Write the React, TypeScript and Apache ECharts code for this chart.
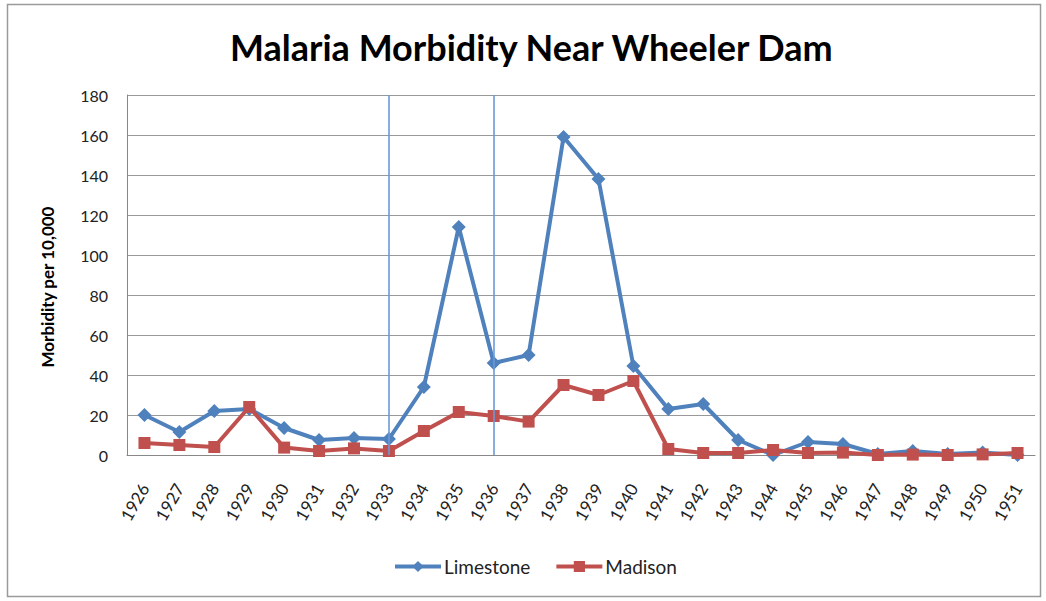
import React, { useEffect, useRef } from "react";
import * as echarts from "echarts";

const years = ["1926","1927","1928","1929","1930","1931","1932","1933","1934","1935","1936","1937","1938","1939","1940","1941","1942","1943","1944","1945","1946","1947","1948","1949","1950","1951"];
const limestone = [20, 11.5, 22, 23, 13.5, 7.5, 8.5, 8, 34, 114, 46, 50, 159, 138, 44.5, 23, 25.5, 7.5, 0, 6.5, 5.5, 0.5, 2, 0.5, 1.3, 0];
const madison = [6, 5, 4, 24, 3.7, 2, 3.3, 2, 12, 21.5, 19.5, 16.7, 35, 30, 37, 3, 1, 1, 2.5, 1, 1.2, 0, 0.2, 0, 0.3, 1];
const markYears = ["1933", "1936"];
const yTicks = { min: 0, max: 180, interval: 20 };

export default function App() {
  const ref = useRef<HTMLDivElement>(null);
  useEffect(() => {
    document.body.style.margin = "0";
    const chart = echarts.init(ref.current!, null, { renderer: "svg" });
    const font = "Lato, 'Open Sans', sans-serif";
    const blue = "#4F81BD";
    const red = "#C0504D";
    chart.setOption({
      animation: false,
      backgroundColor: "#fff",
      title: {
        text: "Malaria Morbidity Near Wheeler Dam",
        left: 225,
        top: 24,
        textStyle: { fontFamily: font, fontWeight: "bold", fontSize: 36, color: "#000" },
      },
      graphic: [
        {
          type: "rect",
          shape: { x: 7.5, y: 4.5, width: 1033, height: 592 },
          style: { fill: "none", stroke: "#9a9a9a", lineWidth: 1.5 },
          silent: true,
        },
        {
          type: "text",
          x: 47,
          y: 287,
          rotation: Math.PI / 2,
          style: {
            text: "Morbidity per 10,000",
            fontFamily: font,
            fontWeight: "bold",
            fontSize: 17,
            fill: "#000",
            align: "center",
            verticalAlign: "middle",
          },
          silent: true,
        },
      ],
      legend: {
        bottom: 20,
        left: 388,
        itemWidth: 46,
        itemHeight: 14,
        itemGap: 24,
        lineStyle: { width: 4 },
        textStyle: { fontFamily: font, fontSize: 19, color: "#222", padding: [0, 0, 0, -2] },
        data: ["Limestone", "Madison"],
      },
      grid: { left: 127, right: 11, top: 95, bottom: 146 },
      xAxis: {
        type: "category",
        data: years,
        boundaryGap: true,
        axisLine: { lineStyle: { color: "#888", width: 1 } },
        axisTick: { show: false },
        axisLabel: {
          rotate: 60,
          interval: 0,
          margin: 30,
          fontFamily: font,
          fontSize: 17,
          color: "#222",
        },
      },
      yAxis: {
        type: "value",
        min: yTicks.min,
        max: yTicks.max,
        interval: yTicks.interval,
        axisLine: { show: true, lineStyle: { color: "#888", width: 1 } },
        axisTick: { show: false },
        splitLine: { lineStyle: { color: "#999", width: 1 } },
        axisLabel: { margin: 19, fontFamily: font, fontSize: 16, color: "#222" },
      },
      series: [
        {
          name: "Limestone",
          type: "line",
          data: limestone,
          color: blue,
          lineStyle: { width: 4, color: blue },
          symbol: "diamond",
          symbolSize: 14,
          itemStyle: { color: blue },
          markLine: {
            silent: true,
            symbol: "none",
            label: { show: false },
            lineStyle: { color: "#6A9AD8", width: 1.6, type: "solid", opacity: 1 },
            emphasis: { disabled: true },
            data: markYears.map((y) => ({ xAxis: y })),
          },
        },
        {
          name: "Madison",
          type: "line",
          data: madison,
          color: red,
          lineStyle: { width: 4, color: red },
          symbol: "rect",
          symbolSize: 12,
          itemStyle: { color: red },
        },
      ],
    });
    return () => chart.dispose();
  }, []);
  return <div ref={ref} style={{ width: 1046, height: 601 }} />;
}
